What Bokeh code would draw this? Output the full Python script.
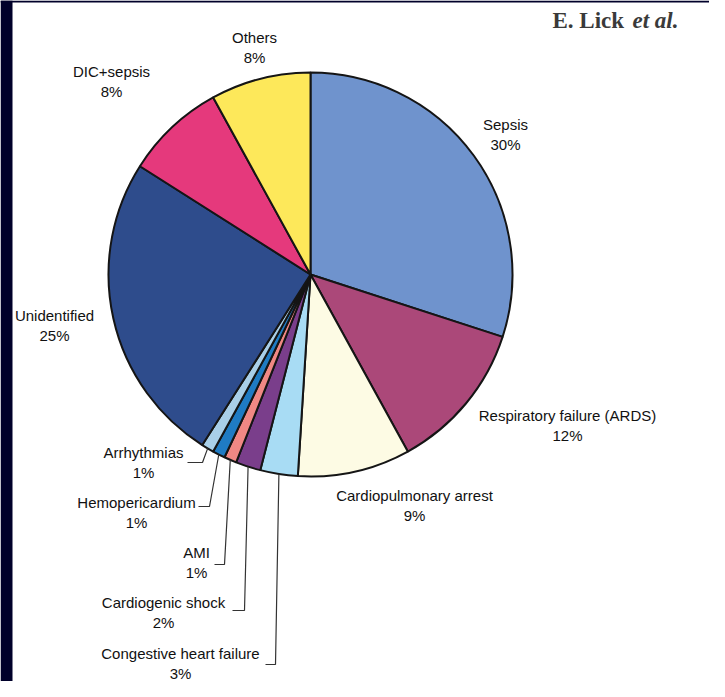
import numpy as np
from bokeh.plotting import figure
from bokeh.models import Range1d, ColumnDataSource
from bokeh.core.properties import value
from bokeh.embed import file_html
from bokeh.resources import INLINE

# ---- data ----
causes = ["Sepsis", "Respiratory failure (ARDS)", "Cardiopulmonary arrest",
          "Congestive heart failure", "Cardiogenic shock", "AMI",
          "Hemopericardium", "Arrhythmias", "Unidentified", "DIC+sepsis", "Others"]
shares = [30, 12, 9, 3, 2, 1, 1, 1, 25, 8, 8]
pct_labels = ["30%", "12%", "9%", "3%", "2%", "1%", "1%", "1%", "25%", "8%", "8%"]
colors = ["#6f93cd", "#ab4879", "#fdfbe4", "#a8dcf4", "#7a3e8b", "#f08884",
          "#1f7bc3", "#a9cfe8", "#2e4c8c", "#e5397c", "#fde85a"]

# ---- layout (image pixel positions) ----
W, H = 709, 681
CX, CY, R = 318, 282, 202          # pie centre / radius in image pixels
def dx(x): return x - CX
def dy(y): return CY - y

label_xy = {  # centre of first text line, image px
    "Sepsis": (513, 132), "Respiratory failure (ARDS)": (575, 423),
    "Cardiopulmonary arrest": (422, 503), "Congestive heart failure": (188, 661),
    "Cardiogenic shock": (171, 610), "AMI": (204, 560), "Hemopericardium": (144, 510),
    "Arrhythmias": (151, 460), "Unidentified": (62, 323), "DIC+sepsis": (119, 79),
    "Others": (262, 45),
}
leaders = {  # start x, elbow x, y (image px)
    "Arrhythmias": (195, 210, 470), "Hemopericardium": (206, 217, 514),
    "AMI": (222, 232, 572), "Cardiogenic shock": (240, 252, 618),
    "Congestive heart failure": (273, 283, 672),
}

p = figure(width=W, height=H, output_backend="svg", toolbar_location=None,
           x_range=Range1d(8 - CX, 8 + W - CX), y_range=Range1d(CY - 8 - H, CY - 8),
           x_axis_type=None, y_axis_type=None, min_border=0)
p.outline_line_color = None
p.background_fill_color = "white"
p.border_fill_color = "white"

# dark page frame strips
p.quad(left=[8 - CX, 8 - CX], right=[20 - CX, 8 + W - CX],
       bottom=[CY - 8 - H, dy(10)], top=[CY - 8, CY - 8],
       fill_color="#00002a", line_color=None)

# header text
p.text(x=[dx(560)], y=[dy(28)], text=["E. Lick "], text_font=value("Liberation Serif"),
       text_font_size="23px", text_font_style="bold", text_color="#3a3a3a",
       text_align="left", text_baseline="alphabetic")
p.text(x=[dx(640)], y=[dy(28)], text=["et al."], text_font=value("Liberation Serif"),
       text_font_size="23px", text_font_style="bold italic", text_color="#3a3a3a",
       text_align="left", text_baseline="alphabetic")

# pie
sh = np.array(shares, dtype=float)
cum = np.cumsum(sh)
prev = cum - sh
start = np.pi / 2 - 2 * np.pi * cum / sh.sum()
end = np.pi / 2 - 2 * np.pi * prev / sh.sum()
mid = (start + end) / 2
src = ColumnDataSource(dict(start=start, end=end, color=colors))
p.wedge(x=0, y=0, radius=R, start_angle="start", end_angle="end", source=src,
        fill_color="color", line_color="#151515", line_width=2)

# labels
lx = [dx(label_xy[c][0]) for c in causes]
ly = [dy(label_xy[c][1]) for c in causes]
ly2 = [v - 20 for v in ly]
for xs, ys, ts in ((lx, ly, causes), (lx, ly2, pct_labels)):
    p.text(x=xs, y=ys, text=ts, text_font=value("Liberation Sans"),
           text_font_size="15px", text_color="#111111",
           text_align="center", text_baseline="middle")

# leader lines
xs_l, ys_l = [], []
for i, c in enumerate(causes):
    if c in leaders:
        sx, ex, yy = leaders[c]
        px = R * np.cos(mid[i])
        py = R * np.sin(mid[i])
        xs_l.append([dx(sx), dx(ex), px])
        ys_l.append([dy(yy), dy(yy), py])
p.multi_line(xs=xs_l, ys=ys_l, line_color="#333333", line_width=1.2)

open("out.html", "w").write(file_html(p, INLINE))
